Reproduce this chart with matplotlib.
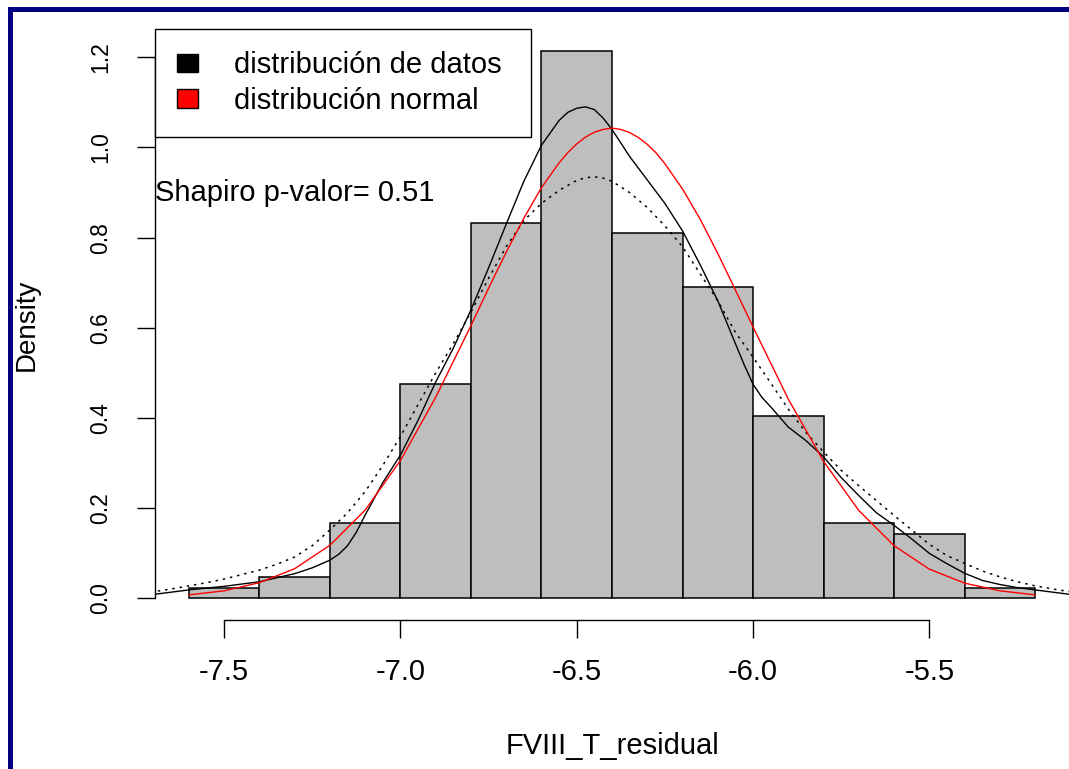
import numpy as np
import matplotlib
matplotlib.use("Agg")
import matplotlib.pyplot as plt
from matplotlib.patches import Patch, Rectangle

plt.rcParams['font.family'] = ['Liberation Sans', 'DejaVu Sans']

# Histograma: limites de las clases y conteos
cortes = [-7.6, -7.4, -7.2, -7.0, -6.8, -6.6, -6.4, -6.2, -6.0, -5.8, -5.6, -5.4, -5.2]
conteos = [1, 2, 7, 20, 35, 51, 34, 29, 17, 7, 6, 1]

# Densidad de los datos (linea continua)
dens_x = [-7.75, -7.70, -7.60, -7.50, -7.40, -7.30, -7.25, -7.20, -7.175, -7.15,
          -7.125, -7.10, -7.05, -7.00, -6.95, -6.90, -6.85, -6.80, -6.75, -6.70,
          -6.65, -6.60, -6.55, -6.525, -6.50, -6.475, -6.45, -6.425, -6.40, -6.35,
          -6.30, -6.25, -6.20, -6.15, -6.10, -6.05, -6.025, -6.00, -5.975, -5.95,
          -5.90, -5.85, -5.80, -5.75, -5.70, -5.65, -5.60, -5.55, -5.50, -5.45,
          -5.40, -5.35, -5.30, -5.25, -5.20, -5.10, -5.05]
dens_y = [0.006, 0.009, 0.019, 0.027, 0.037, 0.055, 0.068, 0.085, 0.098, 0.117,
          0.147, 0.185, 0.257, 0.318, 0.395, 0.480, 0.555, 0.640, 0.733, 0.830,
          0.925, 1.005, 1.060, 1.078, 1.087, 1.090, 1.084, 1.065, 1.040, 0.980,
          0.928, 0.876, 0.815, 0.740, 0.660, 0.565, 0.518, 0.475, 0.446, 0.425,
          0.380, 0.350, 0.314, 0.268, 0.228, 0.190, 0.162, 0.132, 0.100, 0.077,
          0.056, 0.040, 0.031, 0.024, 0.019, 0.009, 0.006]

# Densidad suavizada (linea punteada)
dens2_x = [-7.75, -7.70, -7.65, -7.60, -7.55, -7.50, -7.45, -7.40, -7.35, -7.30,
           -7.25, -7.20, -7.15, -7.10, -7.05, -7.00, -6.95, -6.90, -6.85, -6.80,
           -6.75, -6.70, -6.65, -6.60, -6.55, -6.50, -6.475, -6.45, -6.425, -6.40,
           -6.35, -6.30, -6.25, -6.20, -6.15, -6.10, -6.05, -6.00, -5.95, -5.90,
           -5.85, -5.80, -5.75, -5.70, -5.65, -5.60, -5.55, -5.50, -5.45, -5.40,
           -5.35, -5.30, -5.25, -5.20, -5.15, -5.10, -5.05]
dens2_y = [0.011, 0.015, 0.021, 0.028, 0.035, 0.043, 0.053, 0.063, 0.076, 0.092,
           0.117, 0.152, 0.190, 0.237, 0.295, 0.359, 0.430, 0.500, 0.565, 0.635,
           0.710, 0.780, 0.838, 0.876, 0.905, 0.927, 0.933, 0.935, 0.932, 0.925,
           0.900, 0.867, 0.826, 0.780, 0.720, 0.660, 0.590, 0.535, 0.478, 0.420,
           0.368, 0.325, 0.284, 0.250, 0.217, 0.184, 0.152, 0.120, 0.095, 0.078,
           0.061, 0.048, 0.037, 0.028, 0.021, 0.015, 0.011]

# Curva normal (roja)
normal_x = [-7.6, -7.5, -7.4, -7.3, -7.2, -7.1, -7.0, -6.9, -6.8, -6.75,
            -6.7, -6.65, -6.6, -6.55, -6.525, -6.5, -6.475, -6.45, -6.425, -6.4,
            -6.375, -6.35, -6.325, -6.3, -6.275, -6.25, -6.2, -6.15, -6.1, -6.05,
            -6.0, -5.9, -5.8, -5.7, -5.6, -5.5, -5.4, -5.3, -5.2]
normal_y = [0.008, 0.017, 0.035, 0.066, 0.118, 0.196, 0.306, 0.446, 0.605, 0.688,
            0.768, 0.843, 0.911, 0.966, 0.989, 1.008, 1.023, 1.034, 1.040, 1.043,
            1.040, 1.033, 1.022, 1.007, 0.988, 0.964, 0.908, 0.841, 0.765, 0.684,
            0.602, 0.442, 0.304, 0.195, 0.117, 0.065, 0.034, 0.017, 0.008]

x_ticks = [-7.5, -7.0, -6.5, -6.0, -5.5]
x_tick_labels = ['-7.5', '-7.0', '-6.5', '-6.0', '-5.5']
y_ticks = [0.0, 0.2, 0.4, 0.6, 0.8, 1.0, 1.2]
y_tick_labels = ['0.0', '0.2', '0.4', '0.6', '0.8', '1.0', '1.2']
leyenda = ['distribución de datos', 'distribución normal']
texto_shapiro = 'Shapiro p-valor= 0.51'

W, H = 1069, 769
fig = plt.figure(figsize=(W / 100, H / 100), dpi=100)
ax = fig.add_axes([155 / W, (H - 620.4) / H, 914 / W, 591.5 / H])

# barras del histograma en densidad
anchos = np.diff(cortes)
densidad = np.array(conteos) / (sum(conteos) * anchos)
ax.bar(cortes[:-1], densidad, width=anchos, align='edge',
       color='#BEBEBE', edgecolor='black', linewidth=1.1)

ax.plot(dens_x, dens_y, color='black', linewidth=1.0)
ax.plot(dens2_x, dens2_y, color='black', linewidth=1.1, linestyle=(0, (1.6, 3.2)))
ax.plot(normal_x, normal_y, color='red', linewidth=1.0)

ax.set_xlim(-7.696, -5.104)
ax.set_ylim(-0.0486, 1.2629)

for s in ['top', 'right']:
    ax.spines[s].set_visible(False)
ax.spines['left'].set_bounds(0, 1.2)
ax.spines['bottom'].set_bounds(-7.5, -5.5)
ax.spines['left'].set_linewidth(1.0)
ax.spines['bottom'].set_linewidth(1.0)

ax.set_xticks(x_ticks)
ax.set_xticklabels(x_tick_labels)
ax.set_yticks(y_ticks)
ax.set_yticklabels(y_tick_labels, rotation=90, va='center')
ax.tick_params(axis='x', length=13, width=1.0, pad=14, labelsize=21)
ax.tick_params(axis='y', length=13, width=1.0, pad=18, labelsize=16.5)

ax.set_xlabel('FVIII_T_residual', fontsize=21)
ax.xaxis.set_label_coords(0.5, -0.1887)
ax.set_ylabel('Density', fontsize=20)
ax.yaxis.set_label_coords(-0.1258, 0.5)

ax.text(-7.3, 0.9, texto_shapiro, ha='center', va='center', fontsize=21, clip_on=False)

manejadores = [Patch(facecolor='black', edgecolor='black'),
               Patch(facecolor='red', edgecolor='black')]
leg = ax.legend(manejadores, leyenda, loc='upper left',
                bbox_to_anchor=(0, 0, 376 / 914, 1), mode='expand',
                borderaxespad=0, fontsize=21, fancybox=False, framealpha=1,
                edgecolor='black', handlelength=0.72, handleheight=0.6,
                handletextpad=1.22, borderpad=0.77, labelspacing=0.25)
leg.get_frame().set_linewidth(1.0)

# marco azul del borde
fig.add_artist(Rectangle((8 / W, (H - 12) / H), (W - 8) / W, 5 / H,
                         transform=fig.transFigure, color='#000080', lw=0))
fig.add_artist(Rectangle((8 / W, 0), 5 / W, (H - 7) / H,
                         transform=fig.transFigure, color='#000080', lw=0))

fig.savefig('out.png', dpi=100)
